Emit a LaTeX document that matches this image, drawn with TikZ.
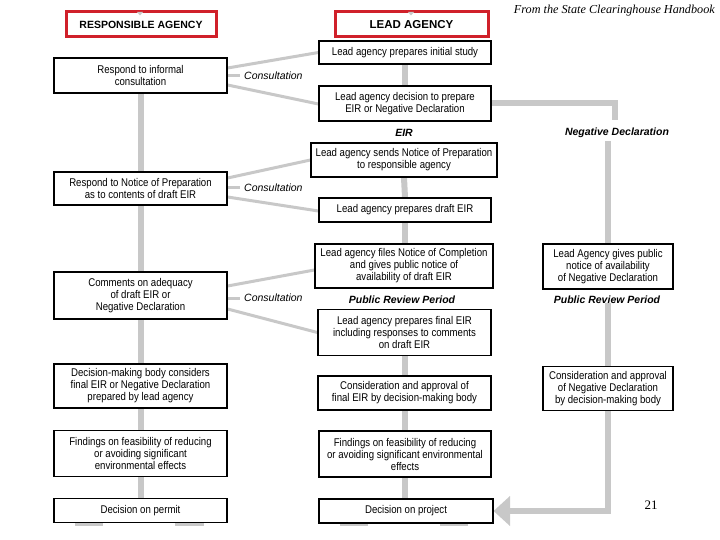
\documentclass[tikz,border=0pt]{standalone}
\usepackage{fontspec}
\usetikzlibrary{calc,backgrounds}
\newfontfamily\boxfont[FakeStretch=0.86]{Liberation Sans}
\newfontfamily\lblfont{Liberation Sans}
\newfontfamily\serfont{Liberation Serif}
\definecolor{lg}{HTML}{C8C8C8}
\definecolor{redbox}{HTML}{D0202A}
\tikzset{
  box/.style={draw=black, line width=1.2pt, fill=white, align=center, inner sep=0pt,
    font=\boxfont\fontsize{11.2}{12}\selectfont},
  redhead/.style={draw=redbox, line width=3pt, fill=white, inner sep=0pt, align=center,
    font=\lblfont\bfseries\fontsize{10.5}{12}\selectfont},
  spine/.style={draw=lg, line width=6pt},
  cons/.style={draw=lg, line width=3pt},
  conslbl/.style={anchor=west, inner sep=0pt, font=\lblfont\itshape\fontsize{10.5}{12}\selectfont},
  phase/.style={inner sep=0pt, font=\lblfont\bfseries\itshape\fontsize{10.5}{12}\selectfont}
}
\begin{document}
\begin{tikzpicture}[x=1pt,y=-1pt]
\useasboundingbox (0,0) rectangle (720,540);

% headers
\node[redhead, minimum width=150pt, minimum height=25pt] (ra) at (141,24.5) {RESPONSIBLE AGENCY};
\node[redhead, minimum width=153pt, minimum height=25pt, font=\lblfont\bfseries\fontsize{11.5}{12}\selectfont] (la) at (411.5,24.5) {LEAD AGENCY};
\fill[lg] (137,12) -- (143,12) -- (140,15.5) -- cycle;
\fill[lg] (408,12) -- (414,12) -- (411,15.5) -- cycle;

\node[anchor=north east, inner sep=0pt, font=\serfont\itshape\fontsize{12.2}{14}\selectfont] (src) at (715,5) {From the State Clearinghouse Handbook};
\node[inner sep=0pt, font=\serfont\fontsize{13}{15}\selectfont] (pg) at (651,505) {21};

% left column nodes
\node[box, minimum width=173pt, minimum height=35pt] (L1) at (140.5,75.5) {Respond to informal\\consultation};
\node[box, minimum width=173pt, minimum height=33pt] (L2) at (140.5,188.5) {Respond to Notice of Preparation\\as to contents of draft EIR};
\node[box, minimum width=173pt, minimum height=47pt] (L3) at (140.5,295.5) {Comments on adequacy\\of draft EIR or\\Negative Declaration};
\node[box, minimum width=173pt, minimum height=44pt] (L4) at (140.5,386) {Decision-making body considers\\final EIR or Negative Declaration\\prepared by lead agency};
\node[box, minimum width=173pt, minimum height=46pt] (L5) at (140.5,453.5) {Findings on feasibility of reducing\\or avoiding significant\\environmental effects};
\node[box, minimum width=173pt, minimum height=24pt] (L6) at (140.5,510.5) {Decision on permit};

% center column nodes
\node[box, minimum width=172pt, minimum height=23pt] (C1) at (405,52.5) {Lead agency prepares initial study};
\node[box, minimum width=172pt, minimum height=35pt] (C2) at (405,103.5) {Lead agency decision to prepare\\EIR or Negative Declaration};
\node[box, minimum width=186pt, minimum height=34pt] (C3) at (404,160) {Lead agency sends Notice of Preparation\\to responsible agency};
\node[box, minimum width=172pt, minimum height=24pt] (C4) at (405,210) {Lead agency prepares draft EIR};
\node[box, minimum width=178pt, minimum height=44pt] (C5) at (404,266) {Lead agency files Notice of Completion\\and gives public notice of\\availability of draft EIR};
\node[box, minimum width=173pt, minimum height=46pt] (C6) at (404.5,332.5) {Lead agency prepares final EIR\\including responses to comments\\on draft EIR};
\node[box, minimum width=173pt, minimum height=34pt] (C7) at (404.5,393) {Consideration and approval of\\final EIR by decision-making body};
\node[box, minimum width=172pt, minimum height=46pt] (C8) at (405,454) {Findings on feasibility of reducing\\or avoiding significant environmental\\effects};
\node[box, minimum width=174pt, minimum height=24pt] (C9) at (406,511) {Decision on project};

% negative declaration column
\node[box, minimum width=130pt, minimum height=45pt] (N1) at (608,266.5) {Lead Agency gives public\\notice of availability\\of Negative Declaration};
\node[box, minimum width=130pt, minimum height=44pt] (N2) at (608,388.5) {Consideration and approval\\of Negative Declaration\\by decision-making body};

% labels
\node[phase] (eir) at (404,133) {EIR};
\node[phase] (ndl) at (617,133) {Negative Declaration};
\node[phase] (prp1) at (402,300) {Public Review Period};
\node[phase] (prp2) at (607,300) {Public Review Period};
\node[conslbl] (cl1) at (244,76) {Consultation};
\node[conslbl] (cl2) at (244,188) {Consultation};
\node[conslbl] (cl3) at (244,298) {Consultation};

\coordinate (nd1) at (615,120);
\coordinate (nd2) at (608,141);
\coordinate (nd3) at (608,303);
\coordinate (ah) at (510,511);
\coordinate (s1) at (240,76);
\coordinate (s2) at (240,188);
\coordinate (s3) at (240,298);

\begin{scope}[on background layer]
\fill[white] (0,0) rectangle (720,540);
% spines
\draw[spine] (L1.south) -- (L2.north);
\draw[spine] (L2.south) -- (L3.north);
\draw[spine] (L3.south) -- (L4.north);
\draw[spine] (L4.south) -- (L5.north);
\draw[spine] (L5.south) -- (L6.north);
\draw[spine] (C1.south) -- (C2.north);
\draw[spine] (C3.south) -- (C4.north);
\draw[spine] (C4.south) -- (C5.north -| C4.south);
\draw[spine] (C6.south -| C7.north) -- (C7.north);
\draw[spine] (C7.south) -- (C8.north -| C7.south);
\draw[spine] (C8.south) -- (C9.north -| C8.south);
\draw[spine] (C2.east) -| (nd1);
\draw[spine] (nd2) -- (N1.north);
\draw[spine] (nd3) -- (N2.north);
\draw[spine] (N2.south) |- (ah);
\fill[lg] (C9.east) -- (510,496) -- (510,526) -- cycle;
% consultation lines
\draw[cons] ($(L1.east)+(0,-7.5)$) -- (C1.west);
\draw[cons] ($(L1.east)+(0,0.5)$) -- (s1);
\draw[cons] ($(L1.east)+(0,9.5)$) -- ($(C2.west)+(0,0.5)$);
\draw[cons] ($(L2.east)+(0,-10.5)$) -- (C3.west);
\draw[cons] ($(L2.east)+(0,-0.5)$) -- (s2);
\draw[cons] ($(L2.east)+(0,8.5)$) -- ($(C4.west)+(0,1)$);
\draw[cons] ($(L3.east)+(0,-9.5)$) -- ($(C5.west)+(0,4)$);
\draw[cons] ($(L3.east)+(0,2.5)$) -- (s3);
\draw[cons] ($(L3.east)+(0,13.5)$) -- (C6.west);
% bottom artifacts
\fill[lg] (75,523) rectangle (103,526);
\fill[lg] (175,523) rectangle (204,526);
\fill[lg] (340,523) rectangle (368,526);
\fill[lg] (440,523) rectangle (468,526);
\end{scope}
\end{tikzpicture}
\end{document}
